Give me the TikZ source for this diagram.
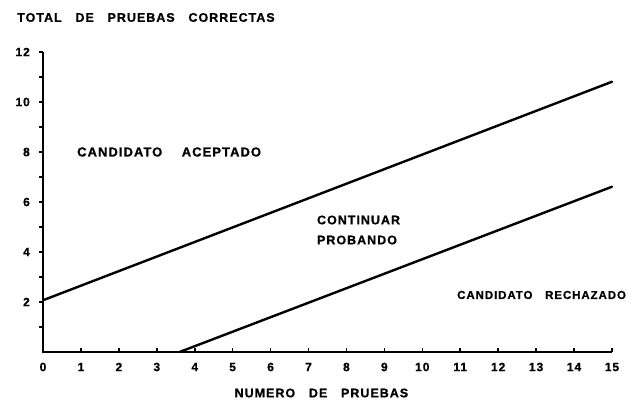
\documentclass[tikz,border=0pt]{standalone}
\usepackage{fontspec}
\setmainfont{Liberation Sans}[LetterSpace=8, BoldFeatures={FakeBold=0.8}]
\usetikzlibrary{positioning}
\newcommand{\wgap}{\hspace*{1.1em}}

\begin{document}
\begin{tikzpicture}
[x=37.93pt, y=25pt,
region/.style={font=\bfseries\fontsize{12.5}{20}\selectfont, inner sep=0pt, align=left},
numlab/.style={font=\bfseries\fontsize{12}{12}\selectfont, inner sep=0pt},
axis/.style={line width=1.6pt},
bound/.style={line width=2.4pt, line cap=round}]

	\useasboundingbox (-1.1337,-1.92) rectangle (15.634,14.08);

	% axes
	\coordinate (orig) at (0,0);
	\coordinate (ytop) at (0,12);
	\coordinate (xend) at (15,0);
	\draw[axis] (ytop) -- (orig) -- (xend);

	\foreach \i in {0,...,15}{
		\draw[axis] (\i,0) -- ++(0,4pt);
		\node (xl\i) [numlab] at (\i,-0.6) {\i};
	}
	\foreach \j in {1,...,12}
		\draw[axis] (0,\j) -- ++(-4pt,0);
	\foreach \j in {2,4,...,12}
		\node (yl\j) [numlab, anchor=east] at (-0.343,\j) {\j};

	\node (ttl) [region, anchor=west] at (-0.685,13.38) {TOTAL\wgap DE\wgap PRUEBAS\wgap CORRECTAS};
	\node (xttl) [region] at (7.34,-1.64) {NUMERO\wgap DE\wgap PRUEBAS};

	% boundaries
	\coordinate (acc0) at (0,2.07);
	\coordinate (acc1) at (15,10.81);
	\coordinate (rej0) at (3.6,0);
	\coordinate (rej1) at (15,6.61);
	\draw[bound] (acc0) -- (acc1);
	\draw[bound] (rej0) -- (rej1);

	\node (acc) [region, anchor=west, font=\bfseries\fontsize{13}{20}\selectfont] at (0.896,8.0) {CANDIDATO\hspace*{1.5em}ACEPTADO};
	\node (cont) [region, anchor=west] at (7.22,4.88) {CONTINUAR\\PROBANDO};
	\node (rej) [region, anchor=west, font=\bfseries\fontsize{11.5}{20}\selectfont] at (10.915,2.28) {CANDIDATO\wgap RECHAZADO};

\end{tikzpicture}
\end{document}
